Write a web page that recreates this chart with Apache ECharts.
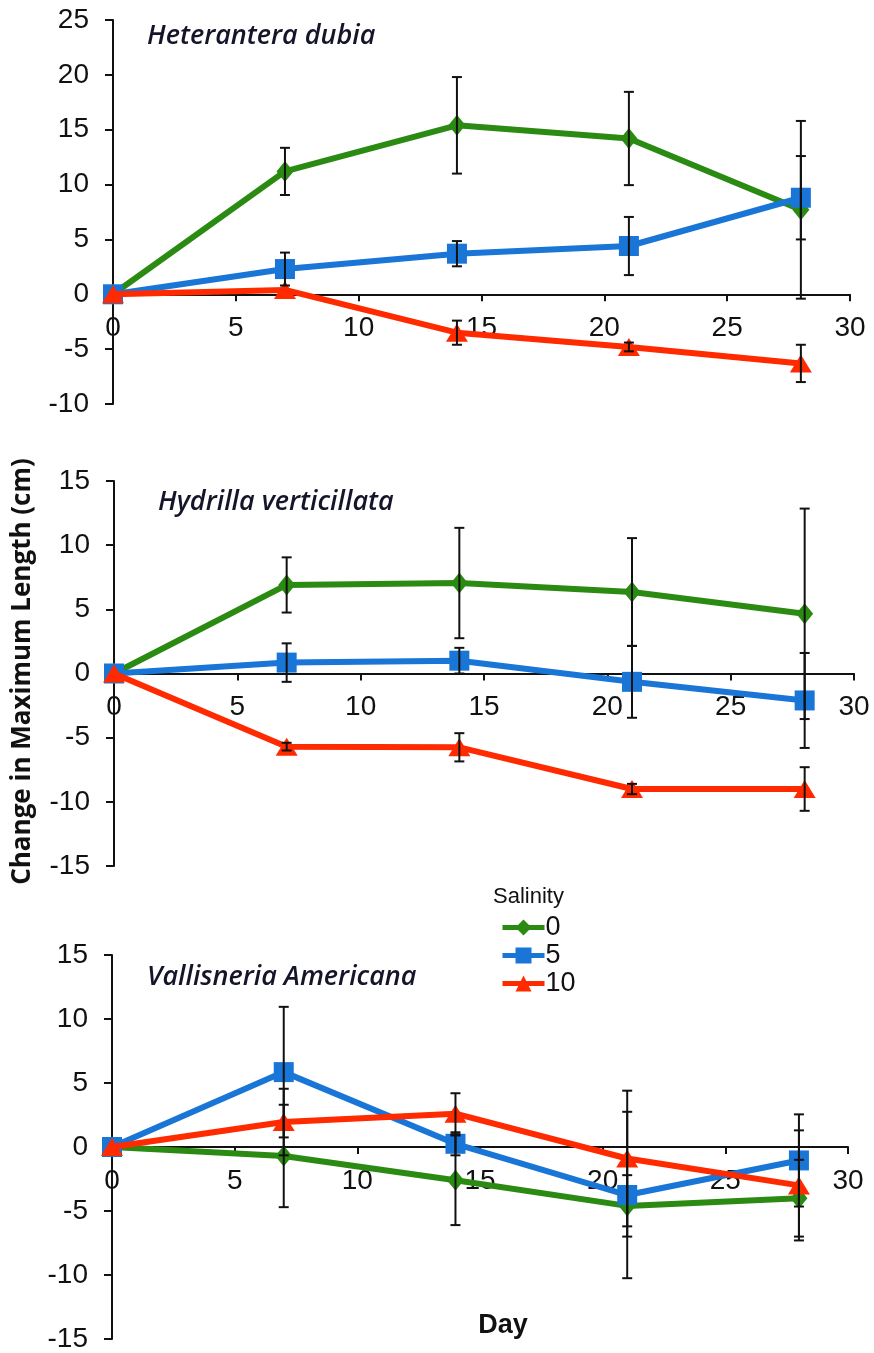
<!DOCTYPE html>
<html><head><meta charset="utf-8">
<script src="https://cdn.jsdelivr.net/npm/echarts@6/dist/echarts.min.js"></script>
<style>html,body{margin:0;padding:0;background:#fff}#c{width:874px;height:1353px}</style>
</head><body><div id="c"></div><script>
// ---- data ----
const days = [0, 7, 14, 21, 28];
const salinityNames = ['0', '5', '10'];
const panelTitles = ['Heterantera dubia', 'Hydrilla verticillata', 'Vallisneria Americana'];
const xTickLabels = [0, 5, 10, 15, 20, 25, 30];

// Heterantera dubia
const hetS0 = [0, 11.2, 15.4, 14.2, 7.7];
const hetS0Err = [0, 2.15, 4.4, 4.25, 8.1];
const hetS5 = [0, 2.3, 3.7, 4.4, 8.8];
const hetS5Err = [0, 1.5, 1.15, 2.65, 3.8];
const hetS10 = [0, 0.4, -3.5, -4.8, -6.3];
const hetS10Err = [0, 0, 1.1, 0.4, 1.7];

// Hydrilla verticillata
const hydS0 = [0, 6.9, 7.05, 6.35, 4.65];
const hydS0Err = [0, 2.15, 4.3, 4.2, 8.2];
const hydS5 = [0, 0.85, 1.0, -0.65, -2.1];
const hydS5Err = [0, 1.5, 1.0, 2.8, 3.7];
const hydS10 = [0, -5.7, -5.75, -9.0, -9.0];
const hydS10Err = [0, 0.3, 1.1, 0.4, 1.7];

// Vallisneria Americana
const valS0 = [0, -0.7, -2.6, -4.6, -4.0];
const valS0Err = [0, 4.0, 3.5, 2.4, 3.0];
const valS5 = [0, 5.85, 0.25, -3.75, -1.05];
const valS5Err = [0, 5.1, 0.9, 6.5, 3.6];
const valS10 = [0, 1.95, 2.6, -0.9, -3.0];
const valS10Err = [0, 2.6, 1.6, 5.3, 4.3];

const xTicks = {min: 0, max: 30, interval: 5};
const yRanges = [{min: -10, max: 25, interval: 5}, {min: -15, max: 15, interval: 5}, {min: -15, max: 15, interval: 5}];

// ---- build ----
const colors = ['#2b8a12', '#1976d6', '#ff2a00'];
const symbols = ['diamond', 'rect', 'triangle'];
const symbolSizes = [[17, 21], 20, [22, 18]];
const panels = [
  {vals: [hetS0, hetS5, hetS10], errs: [hetS0Err, hetS5Err, hetS10Err]},
  {vals: [hydS0, hydS5, hydS10], errs: [hydS0Err, hydS5Err, hydS10Err]},
  {vals: [valS0, valS5, valS10], errs: [valS0Err, valS5Err, valS10Err]}
];
const grids = [
  {left: 113, right: 24, top: 20, height: 384},
  {left: 114, right: 20, top: 481, height: 385},
  {left: 112, right: 26, top: 955, height: 384}
];
const numFont = '28px "Liberation Sans", Arial, sans-serif';
const labelFont = {fontFamily: '"Liberation Sans", Arial, sans-serif', fontSize: 28, color: '#111'};

const xAxes = [], yAxes = [], series = [];
grids.forEach((g, i) => {
  xAxes.push({gridIndex: i, type: 'value', min: xTicks.min, max: xTicks.max, interval: xTicks.interval,
    axisLine: {onZero: true, lineStyle: {color: '#111', width: 2}},
    axisTick: {length: 7, lineStyle: {color: '#111', width: 2}},
    axisLabel: {show: false},
    splitLine: {show: false}});
  yAxes.push({gridIndex: i, type: 'value', min: yRanges[i].min, max: yRanges[i].max, interval: yRanges[i].interval,
    axisLine: {show: true, onZero: false, lineStyle: {color: '#111', width: 2}},
    axisTick: {show: true, length: 8, lineStyle: {color: '#111', width: 2}},
    axisLabel: Object.assign({margin: 24}, labelFont),
    splitLine: {show: false}});
  // x tick labels placed under the zero line
  series.push({type: 'custom', xAxisIndex: i, yAxisIndex: i, z: 1, silent: true,
    data: xTickLabels.map(v => [v, 0]),
    encode: {x: 0, y: 1},
    renderItem: function (params, api) {
      const p = api.coord([api.value(0), api.value(1)]);
      return {type: 'text', x: p[0], y: p[1] + 34,
        style: {text: String(api.value(0)), fill: '#111', font: numFont, align: 'center', verticalAlign: 'middle'}};
    }});
  const p = panels[i];
  for (let s = 0; s < 3; s++) {
    series.push({type: 'line', name: salinityNames[s], xAxisIndex: i, yAxisIndex: i,
      data: days.map((d, k) => [d, p.vals[s][k]]),
      symbol: symbols[s], symbolSize: symbolSizes[s], showAllSymbol: true,
      lineStyle: {color: colors[s], width: 6}, itemStyle: {color: colors[s]},
      z: 2 + s, emphasis: {disabled: true}});
  }
  for (let s = 0; s < 3; s++) {
    series.push({type: 'custom', xAxisIndex: i, yAxisIndex: i, z: 10, silent: true,
      data: days.map((d, k) => [d, p.vals[s][k] - p.errs[s][k], p.vals[s][k] + p.errs[s][k], p.errs[s][k]]).filter(r => r[3] > 0),
      encode: {x: 0, y: [1, 2]},
      renderItem: function (params, api) {
        const x = api.value(0);
        const top = api.coord([x, api.value(2)]);
        const bot = api.coord([x, api.value(1)]);
        const w = 5;
        const st = {stroke: '#111', lineWidth: 2};
        return {type: 'group', children: [
          {type: 'line', shape: {x1: top[0], y1: top[1], x2: bot[0], y2: bot[1]}, style: st},
          {type: 'line', shape: {x1: top[0] - w, y1: top[1], x2: top[0] + w, y2: top[1]}, style: st},
          {type: 'line', shape: {x1: bot[0] - w, y1: bot[1], x2: bot[0] + w, y2: bot[1]}, style: st}
        ]};
      }});
  }
});

const titlePos = [[147, 36], [158, 502.5], [147, 977.5]];
const graphics = panelTitles.map((t, i) => ({type: 'text', x: titlePos[i][0], y: titlePos[i][1],
  style: {text: t, fill: '#15152a', font: 'italic 600 27px "Open Sans", sans-serif', align: 'left', verticalAlign: 'middle'}}));
graphics.push({type: 'text', x: 23, y: 671.5, rotation: Math.PI / 2,
  style: {text: 'Change in Maximum Length (cm)', fill: '#111', font: 'bold 26px "Open Sans", sans-serif', align: 'center', verticalAlign: 'middle'}});
graphics.push({type: 'text', x: 503, y: 1326, style: {text: 'Day', fill: '#111', font: 'bold 27px "Liberation Sans", Arial, sans-serif', align: 'center', verticalAlign: 'middle'}});
graphics.push({type: 'text', x: 493, y: 897, style: {text: 'Salinity', fill: '#111', font: '22px "Liberation Sans", Arial, sans-serif', align: 'left', verticalAlign: 'middle'}});

const chart = echarts.init(document.getElementById('c'), null, {renderer: 'canvas'});
chart.setOption({
  animation: false,
  backgroundColor: '#fff',
  grid: grids,
  xAxis: xAxes,
  yAxis: yAxes,
  legend: {data: salinityNames, orient: 'vertical', left: 500, top: 914, itemWidth: 42, itemHeight: 20, itemGap: 1, padding: 0,
    lineStyle: {width: 5},
    textStyle: {fontFamily: '"Liberation Sans", Arial, sans-serif', fontSize: 27, color: '#111', padding: [0, 0, 0, -4], lineHeight: 26}},
  graphic: graphics,
  series: series
});
</script></body></html>
